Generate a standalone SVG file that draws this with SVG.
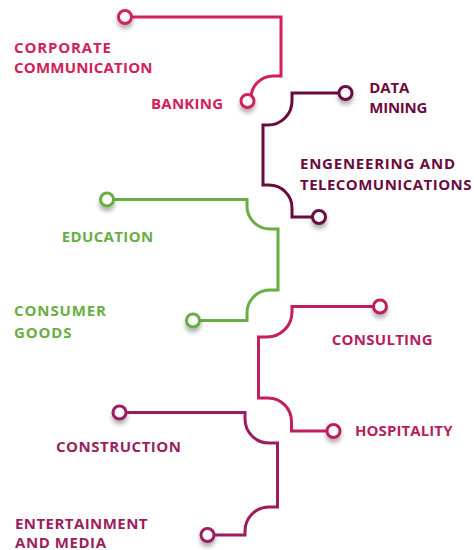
<svg xmlns="http://www.w3.org/2000/svg" width="474" height="550" viewBox="0 0 474 550">
  <defs>
    <filter id="drop" x="-100%" y="-100%" width="300%" height="300%">
      <feDropShadow dx="0" dy="4" stdDeviation="2.2" flood-color="#000" flood-opacity="0.3"/>
    </filter>
  </defs>
  <style>
    .track { fill: none; stroke-width: 3; stroke-linejoin: miter; }
    .dot { fill: #fff; stroke-width: 3; filter: url(#drop); }
    .label { font-family: "Open Sans", "DejaVu Sans", sans-serif; font-size: 15px; font-weight: 700; }
    .red { stroke: #d3205a; } .red-t { fill: #d3205a; }
    .plum { stroke: #6a0b40; } .plum-t { fill: #6a0b40; }
    .green { stroke: #69ae45; } .green-t { fill: #69ae45; }
    .rose { stroke: #c21f60; } .rose-t { fill: #b51f61; }
    .berry { stroke: #9e1c5e; } .berry-t { fill: #9b1e5e; }
  </style>
  <rect width="474" height="550" fill="#fff"/>

  <g id="connectors">
    <path class="track red" d="M131,17 H281 V76 H273 A22,22 0 0 0 251,98"/>
    <path class="track plum" d="M339,93 H292 V101 A24,24 0 0 1 268,125 H263 V185 H269 A23,23 0 0 1 292,208 V217 H313"/>
    <path class="track green" d="M113,199.5 H247 V206 A23,23 0 0 0 270,229 H278 V290 H270 A23,23 0 0 0 247,313 V320.5 H199"/>
    <path class="track rose" d="M374,306.5 H292 V312 A25,25 0 0 1 267,337 H258.5 V398 H268 A23.5,23.5 0 0 1 291.5,421.5 V431 H327"/>
    <path class="track berry" d="M126,412.5 H245 V419 A24,24 0 0 0 269,443 H277.5 V507 H269 A24,24 0 0 0 245,531 V535 H213"/>
  </g>

  <g id="corporate-communication">
    <circle class="dot red" cx="125" cy="17" r="6.5"/>
    <text class="label red-t" x="14" y="52.5" textLength="97" lengthAdjust="spacing">CORPORATE</text>
    <text class="label red-t" x="14" y="72.7" textLength="138.5" lengthAdjust="spacing">COMMUNICATION</text>
  </g>
  <g id="banking">
    <circle class="dot red" cx="247.5" cy="101" r="6.5"/>
    <text class="label red-t" x="151" y="109" textLength="72" lengthAdjust="spacing">BANKING</text>
  </g>
  <g id="data-mining">
    <circle class="dot plum" cx="345.5" cy="93" r="6.5"/>
    <text class="label plum-t" x="369.3" y="92.7" textLength="40" lengthAdjust="spacing">DATA</text>
    <text class="label plum-t" x="369.3" y="112.7" textLength="58" lengthAdjust="spacing">MINING</text>
  </g>
  <g id="engineering-telecom">
    <circle class="dot plum" cx="319" cy="217" r="6.5"/>
    <text class="label plum-t" x="300" y="168.7" textLength="155" lengthAdjust="spacing">ENGENEERING AND</text>
    <text class="label plum-t" x="300" y="190" textLength="171.5" lengthAdjust="spacing">TELECOMUNICATIONS</text>
  </g>
  <g id="education">
    <circle class="dot green" cx="107" cy="199.5" r="6.5"/>
    <text class="label green-t" x="61.7" y="242.3" textLength="91.5" lengthAdjust="spacing">EDUCATION</text>
  </g>
  <g id="consumer-goods">
    <circle class="dot green" cx="193" cy="320.5" r="6.5"/>
    <text class="label green-t" x="14" y="316" textLength="92" lengthAdjust="spacing">CONSUMER</text>
    <text class="label green-t" x="14" y="337.7" textLength="57.5" lengthAdjust="spacing">GOODS</text>
  </g>
  <g id="consulting">
    <circle class="dot rose" cx="380" cy="306.5" r="6.5"/>
    <text class="label rose-t" x="331.7" y="345" textLength="101" lengthAdjust="spacing">CONSULTING</text>
  </g>
  <g id="hospitality">
    <circle class="dot rose" cx="333.5" cy="431" r="6.5"/>
    <text class="label rose-t" x="355" y="436" textLength="97.5" lengthAdjust="spacing">HOSPITALITY</text>
  </g>
  <g id="construction">
    <circle class="dot berry" cx="119.5" cy="412.5" r="6.5"/>
    <text class="label berry-t" x="56" y="452.3" textLength="125" lengthAdjust="spacing">CONSTRUCTION</text>
  </g>
  <g id="entertainment-media">
    <circle class="dot berry" cx="207.5" cy="535" r="6.5"/>
    <text class="label berry-t" x="15" y="529.3" textLength="132.5" lengthAdjust="spacing">ENTERTAINMENT</text>
    <text class="label berry-t" x="15" y="548.3" textLength="91" lengthAdjust="spacing">AND MEDIA</text>
  </g>
</svg>
